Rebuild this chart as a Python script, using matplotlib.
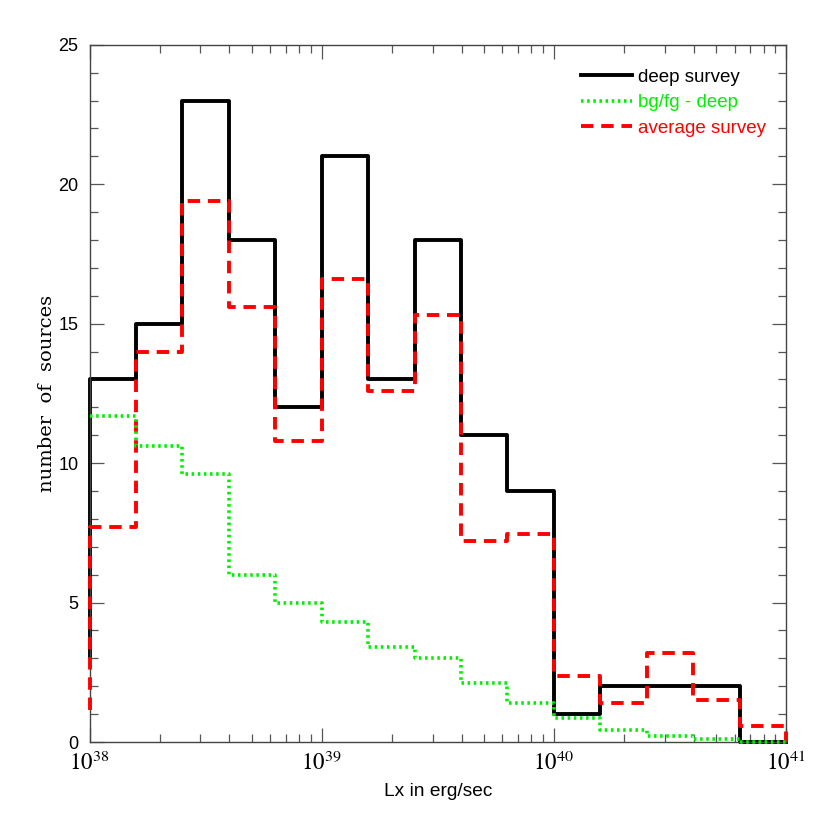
import numpy as np
import matplotlib
matplotlib.use('Agg')
import matplotlib.pyplot as plt
from matplotlib.ticker import LogLocator, MultipleLocator, FuncFormatter

# log10(Lx) bin edges, 0.2 dex wide
log_edges = [38.0, 38.2, 38.4, 38.6, 38.8, 39.0, 39.2, 39.4, 39.6, 39.8,
             40.0, 40.2, 40.4, 40.6, 40.8, 41.0]

deep = [13, 15, 23, 18, 12, 21, 13, 18, 11, 9, 1, 2, 2, 2, 0]
bgfg = [11.7, 10.6, 9.6, 6.0, 5.0, 4.3, 3.4, 3.0, 2.1, 1.4,
        0.85, 0.43, 0.23, 0.12, 0.0]
average = [7.7, 14.0, 19.4, 15.6, 10.8, 16.6, 12.6, 15.3, 7.2, 7.45,
           2.35, 1.4, 3.2, 1.5, 0.57]

# where the left edge of each histogram starts (bin below 1e38 is off the plot)
deep_start = 3.05
bgfg_start = 11.7
average_start = 1.15


def step_xy(values, start, end):
    x = [10 ** log_edges[0]]
    y = [start]
    for i, v in enumerate(values):
        x += [10 ** log_edges[i], 10 ** log_edges[i + 1]]
        y += [v, v]
    x.append(10 ** log_edges[-1])
    y.append(end)
    return x, y


plt.rcParams['mathtext.fontset'] = 'stix'

fig = plt.figure(figsize=(8.3, 8.3), dpi=100)
ax = fig.add_axes([0.108, 0.106, 0.839, 0.840])

x, y = step_xy(average, average_start, 0)
ax.plot(x, y, color='#ff0000', lw=2.8, ls=(0, (3.2, 2.0)), label='average survey',
        zorder=3, clip_on=False)

x, y = step_xy(bgfg, bgfg_start, 0)
ax.plot(x, y, color='#00f000', lw=2.6, ls=(0, (0.7, 1.0)), label='bg/fg - deep',
        zorder=4, clip_on=False)

x, y = step_xy(deep, deep_start, 0)
ax.plot(x, y, color='black', lw=2.8, ls='-', label='deep survey', zorder=2, clip_on=False)

ax.set_xscale('log')
ax.set_xlim(1e38, 1e41)
ax.set_ylim(0, 25)

ax.xaxis.set_major_locator(LogLocator(base=10, numticks=10))
ax.xaxis.set_minor_locator(LogLocator(base=10, subs=np.arange(2, 10), numticks=20))
ax.xaxis.set_major_formatter(FuncFormatter(lambda v, p: r'$10^{%d}$' % round(np.log10(v))))
ax.yaxis.set_major_locator(MultipleLocator(5))
ax.yaxis.set_minor_locator(MultipleLocator(1))

ax.tick_params(which='both', direction='in', top=True, right=True, color='#555555', width=0.9)
ax.tick_params(which='major', length=10)
ax.tick_params(which='minor', length=6)
ax.tick_params(axis='y', labelsize=13, pad=8)
ax.tick_params(axis='x', labelsize=16.5, pad=7)
for lab in ax.get_yticklabels():
    lab.set_family('Liberation Sans')
for sp in ax.spines.values():
    sp.set_color('#444444')
    sp.set_linewidth(1.0)

ax.set_xlabel('Lx in erg/sec', family='Liberation Sans', fontsize=13.8, labelpad=6)
ax.set_ylabel('number  of  sources', family='DejaVu Serif', fontsize=14, labelpad=2)

handles, labels = ax.get_legend_handles_labels()
order = [2, 1, 0]
leg = ax.legend([handles[i] for i in order], [labels[i] for i in order],
                loc='upper right', bbox_to_anchor=(0.995, 0.99), frameon=False,
                prop={'family': 'Liberation Sans', 'size': 13.5},
                handlelength=2.7, handletextpad=0.3, labelspacing=0.45)
for txt, h in zip(leg.get_texts(), leg.legend_handles):
    txt.set_color(h.get_color())

fig.savefig('out.png', dpi=100)
